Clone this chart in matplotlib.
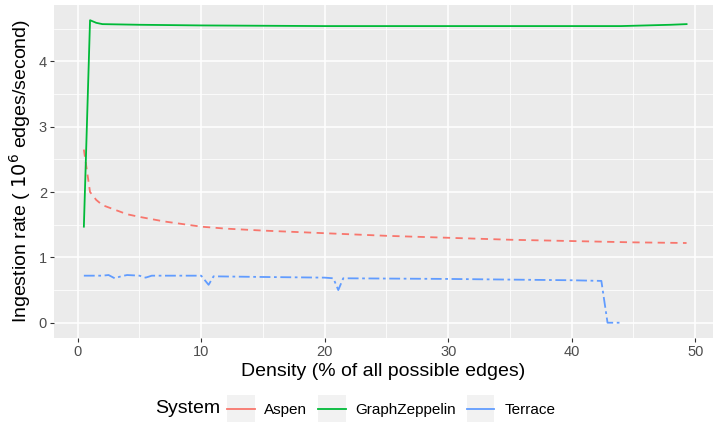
import matplotlib
matplotlib.use('Agg')
import matplotlib.pyplot as plt
from matplotlib.legend_handler import HandlerLine2D
from matplotlib.lines import Line2D
from matplotlib.patches import Rectangle

plt.rcParams['font.family'] = ['Liberation Sans', 'DejaVu Sans']

# Ingestion rate (10^6 edges/second) vs density (%)
aspen_x = [0.5, 1.0, 1.5, 2, 3, 4, 5, 7, 10, 12, 15, 20, 25, 30, 35, 40, 45, 49.3]
aspen_y = [2.65, 2.0, 1.88, 1.8, 1.73, 1.66, 1.62, 1.55, 1.47, 1.44, 1.41, 1.37, 1.33, 1.30, 1.27, 1.25, 1.23, 1.22]

gz_x = [0.5, 1.0, 1.5, 2, 5, 10, 20, 30, 40, 44, 46, 48, 49.3]
gz_y = [1.47, 4.63, 4.59, 4.57, 4.56, 4.55, 4.54, 4.54, 4.54, 4.54, 4.55, 4.56, 4.57]

terrace_x = [0.5, 2, 2.5, 3.0, 3.5, 4, 5, 5.5, 6, 8, 10, 10.6, 11, 15, 20, 20.7, 21.1, 21.5, 30, 40, 42.4, 42.9, 43.9]
terrace_y = [0.72, 0.72, 0.73, 0.68, 0.71, 0.73, 0.72, 0.69, 0.72, 0.72, 0.72, 0.58, 0.71, 0.70, 0.69, 0.68, 0.50, 0.68, 0.67, 0.65, 0.64, 0.0, 0.0]

series = ['Aspen', 'GraphZeppelin', 'Terrace']
colors = ['#F8766D', '#00BA38', '#619CFF']
styles = [(0, (4, 3)), '-', (0, (6, 2, 1.5, 2))]


class KeyHandler(HandlerLine2D):
    # ggplot-style legend key: grey square behind the line
    def create_artists(self, legend, orig_handle, xdescent, ydescent, width, height, fontsize, trans):
        bg = Rectangle((-xdescent, -ydescent - 6), width, height + 12,
                       facecolor='#F2F2F2', edgecolor='none', transform=trans)
        arts = super().create_artists(legend, orig_handle, xdescent, ydescent, width, height, fontsize, trans)
        return [bg] + arts


fig = plt.figure(figsize=(7.13, 4.23), dpi=100)
ax = fig.add_axes([0.0757, 0.2017, 0.9243, 0.787])
ax.set_facecolor('#EBEBEB')

data = [(aspen_x, aspen_y), (gz_x, gz_y), (terrace_x, terrace_y)]
for name, (xs, ys), c, ls in zip(series, data, colors, styles):
    ax.plot(xs, ys, color=c, ls=ls, lw=1.3, label=name)

ax.set_xlim(-1.92, 51.44)
ax.set_ylim(-0.229, 4.866)
ax.set_xticks([0, 10, 20, 30, 40, 50])
ax.set_yticks([0, 1, 2, 3, 4])
ax.set_xticks([5, 15, 25, 35, 45], minor=True)
ax.set_yticks([0.5, 1.5, 2.5, 3.5, 4.5], minor=True)
ax.grid(True, which='major', color='white', lw=1.1)
ax.grid(True, which='minor', color='white', lw=0.55)
ax.set_axisbelow(True)
for s in ax.spines.values():
    s.set_visible(False)
ax.tick_params(which='major', length=3, color='#333333', labelcolor='#4D4D4D', labelsize=10.5, width=0.8, pad=2)
ax.tick_params(which='minor', length=0)

ax.set_xlabel('Density (% of all possible edges)', fontsize=14, labelpad=3)
ax.set_ylabel(r'Ingestion rate ( $10^6$ edges/second)', fontsize=14, labelpad=4)

# legend: solid keys like the ggplot guide
handles = [Line2D([], [], color=c, lw=1.3) for c in colors]
fig.text(155 / 713, 1 - 408 / 423, 'System', fontsize=14, va='center', ha='left')
fig.legend(handles, series, loc='center left', bbox_to_anchor=(227 / 713, 1 - 410 / 423),
           ncol=3, frameon=False, fontsize=11, handlelength=1.8, columnspacing=0.7,
           handletextpad=0.65, borderpad=0, borderaxespad=0,
           handler_map={Line2D: KeyHandler()})

fig.savefig('out.png', dpi=100)
